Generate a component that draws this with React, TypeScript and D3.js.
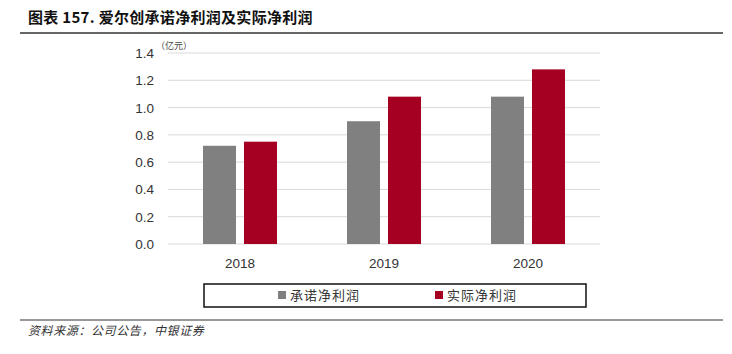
import React from "react";
import * as d3 from "d3";

const categories = ["2018", "2019", "2020"];
const seriesNames = ["承诺净利润", "实际净利润"];
const promised = [0.72, 0.9, 1.08];
const actual = [0.75, 1.08, 1.28];
const yTicks = [0, 0.2, 0.4, 0.6, 0.8, 1.0, 1.2, 1.4];
const colors = ["#808080", "#A50021"];

const W = 732;
const H = 354;
const plot = { left: 168, right: 600, top: 53, bottom: 244 };

export default function App() {
  const x = d3.scaleBand().domain(categories).range([plot.left, plot.right]);
  const y = d3.scaleLinear().domain([0, 1.4]).range([plot.bottom, plot.top]);
  const barW = 33;
  const gap = 8;
  const series = [promised, actual];
  const sans = "'Liberation Sans', Arial, sans-serif";
  const cjk = "'Noto Sans CJK SC', sans-serif";
  return (
    <svg width={W} height={H} style={{ position: "absolute", left: 0, top: 0, background: "#fff" }}>
      <text x={28} y={23} fontSize={15} fontWeight="bold" fontFamily={cjk} fill="#111" letterSpacing={0.3}>
        图表 157. 爱尔创承诺净利润及实际净利润
      </text>
      <line x1={20} x2={723} y1={33} y2={33} stroke="#333" strokeWidth={1.5} />
      {yTicks.map((t) => (
        <g key={t}>
          <line x1={plot.left} x2={plot.right} y1={y(t)} y2={y(t)} stroke="#d9d9d9" strokeWidth={1} />
          <text x={154} y={y(t) + 5} fontSize={13.5} textAnchor="end" fontFamily={sans} fill="#333">
            {t.toFixed(1)}
          </text>
        </g>
      ))}
      <text x={156} y={49} fontSize={9} fontFamily={cjk} fill="#444">（亿元）</text>
      {categories.map((c, i) => {
        const cx = (x(c) as number) + x.bandwidth() / 2;
        return (
          <g key={c}>
            {series.map((s, j) => {
              const bx = j === 0 ? cx - gap / 2 - barW : cx + gap / 2;
              return (
                <rect key={j} x={bx} y={y(s[i])} width={barW} height={y(0) - y(s[i])} fill={colors[j]} />
              );
            })}
            <text x={cx} y={268} fontSize={13.5} textAnchor="middle" fontFamily={sans} fill="#333">
              {c}
            </text>
          </g>
        );
      })}
      <rect x={204} y={284} width={382} height={23} fill="none" stroke="#111" strokeWidth={1.5} />
      {seriesNames.map((n, j) => {
        const lx = j === 0 ? 278 : 435;
        return (
          <g key={n}>
            <rect x={lx} y={291} width={8} height={8} fill={colors[j]} />
            <text x={lx + 12} y={300} fontSize={13} fontFamily={cjk} fill="#333" letterSpacing={1}>{n}</text>
          </g>
        );
      })}
      <line x1={20} x2={723} y1={320} y2={320} stroke="#333" strokeWidth={1.2} />
      <text x={28} y={335} fontSize={12} fontStyle="italic" fontFamily={cjk} fill="#333" letterSpacing={0.6}>
        资料来源：公司公告，中银证券
      </text>
    </svg>
  );
}
